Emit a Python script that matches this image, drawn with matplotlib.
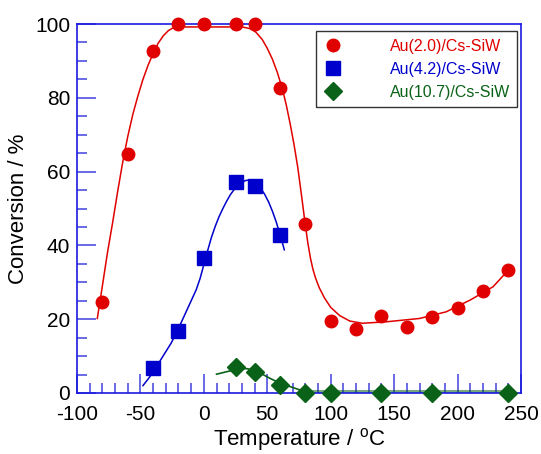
import matplotlib
matplotlib.use("Agg")
import matplotlib.pyplot as plt
from matplotlib.ticker import MultipleLocator

plt.rcParams['font.family'] = ['Liberation Sans', 'DejaVu Sans']
plt.rcParams['mathtext.fontset'] = 'custom'
plt.rcParams['mathtext.rm'] = 'Liberation Sans'
plt.rcParams['axes.unicode_minus'] = False

# measured data
red_x = [-80, -60, -40, -20, 0, 25, 40, 60, 80, 100, 120, 140, 160, 180, 200, 220, 240]
red_y = [24.7, 64.8, 92.7, 100, 100, 100, 100, 82.6, 45.8, 19.6, 17.3, 20.9, 17.9, 20.6, 23.0, 27.6, 33.3]
blue_x = [-40, -20, 0, 25, 40, 60]
blue_y = [6.8, 16.8, 36.6, 57.2, 56.1, 42.8]
green_x = [25, 40, 60, 80, 100, 140, 180, 240]
green_y = [7.0, 5.8, 2.2, 0, 0, 0, 0, 0]

# fitted guide curves
red_fit_x = [-84, -80, -76, -72, -68, -64, -60, -56, -52, -48, -44, -40, -36, -32, -28, -24, -20, 0, 20, 30,
             36, 41, 46, 50, 54, 58, 62, 65, 68, 71, 74, 77, 80, 82, 84, 86, 88, 91, 95, 100, 107, 115, 125,
             144, 170, 191, 210, 228, 240]
red_fit_y = [20.2, 29, 38, 46, 54.5, 62.5, 69.5, 75.5, 80.5, 85, 88.8, 92, 94.8, 96.8, 98.2, 99, 99.2, 99.2, 99.2, 99.2,
             98.8, 97.8, 95.8, 93.4, 90.5, 86.8, 82.3, 78, 73, 67.5, 61.2, 53.5, 45.5, 40.6, 36.6, 33.5, 31.2, 28.5, 25.8,
             23.2, 21, 19.5, 18.9, 19.3, 20.2, 22, 25.2, 28.8, 33.3]
blue_fit_x = [-48, -43, -38.5, -34, -30, -26, -22, -18, -14, -10, -6, -3, 0, 3, 6, 9, 12, 15, 18, 21, 24, 27,
              30, 33, 36, 39, 42, 45, 48, 51, 54, 57, 60, 62, 63.4]
blue_fit_y = [2, 4.2, 6.5, 9, 11.2, 13.4, 16, 19, 22, 25, 28, 31, 34.8, 38.6, 42.2, 45.2, 47.8, 50, 52, 53.8, 55.2, 56.3,
              57.1, 57.6, 57.7, 57.4, 56.6, 55.4, 53.8, 51.8, 49.3, 46.4, 43, 40.6, 38.8]
green_fit_x = [10, 16, 22, 28, 34, 40, 46, 52, 58, 64, 70, 76, 82, 86]
green_fit_y = [5.1, 5.6, 6.1, 6.5, 6.6, 6.1, 5.1, 4.0, 3.0, 2.2, 1.5, 0.8, 0.3, 0.1]
green_tail_x = [86, 240]
green_tail_y = [0.6, 0.6]

labels = ['Au(2.0)/Cs-SiW', 'Au(4.2)/Cs-SiW', 'Au(10.7)/Cs-SiW']
red = '#e00000'
blue = '#0000cc'
green = '#0a6218'
axis_blue = '#1a1ae0'
tick_blue = '#5050e0'

fig = plt.figure(figsize=(5.41, 4.54), dpi=100)
ax = fig.add_axes([77/541, 1-393/454, 444/541, 369/454])

ax.plot(red_fit_x, red_fit_y, color=red, lw=1.1, zorder=2)
ax.plot(blue_fit_x, blue_fit_y, color=blue, lw=1.1, zorder=2)
ax.plot(green_fit_x, green_fit_y, color=green, lw=1.2, zorder=2)
ax.plot(green_tail_x, green_tail_y, color=green, lw=2.2, alpha=0.55, zorder=2)

ax.plot(red_x, red_y, 'o', color=red, ms=9, mec=red, label=labels[0], zorder=4, clip_on=False)
ax.plot(blue_x, blue_y, 's', color=blue, ms=9.5, mec=blue, label=labels[1], zorder=4, clip_on=False)
ax.plot(green_x, green_y, 'D', color=green, ms=9.5, mec=green, label=labels[2], zorder=4, clip_on=False)

ax.set_xlim(-100, 250)
ax.set_ylim(0, 100)
ax.xaxis.set_major_locator(MultipleLocator(50))
ax.xaxis.set_minor_locator(MultipleLocator(10))
ax.yaxis.set_major_locator(MultipleLocator(20))
ax.yaxis.set_minor_locator(MultipleLocator(5))
ax.tick_params(which='both', direction='in', colors=tick_blue, labelcolor='black', labelsize=15, width=1.2)
ax.tick_params(which='major', length=14)
ax.tick_params(which='minor', length=7)
ax.tick_params(axis='x', which='major', pad=9)
ax.tick_params(axis='y', which='major', pad=5)
for s in ax.spines.values():
    s.set_color(axis_blue)
    s.set_linewidth(1.2)

ax.set_xlabel('Temperature / $^{\\mathrm{o}}$C', fontsize=16, labelpad=1)
ax.set_ylabel('Conversion / %', fontsize=16, labelpad=4)

leg = ax.legend(loc='upper right', bbox_to_anchor=(0.992, 0.98), fontsize=11.5, frameon=True,
                fancybox=False, edgecolor='black', handletextpad=3.0, borderpad=0.45,
                labelspacing=0.5, handlelength=1.2, borderaxespad=0)
leg.get_frame().set_linewidth(1.0)
for t, c in zip(leg.get_texts(), [red, blue, green]):
    t.set_color(c)

fig.savefig('out.png', dpi=100)
